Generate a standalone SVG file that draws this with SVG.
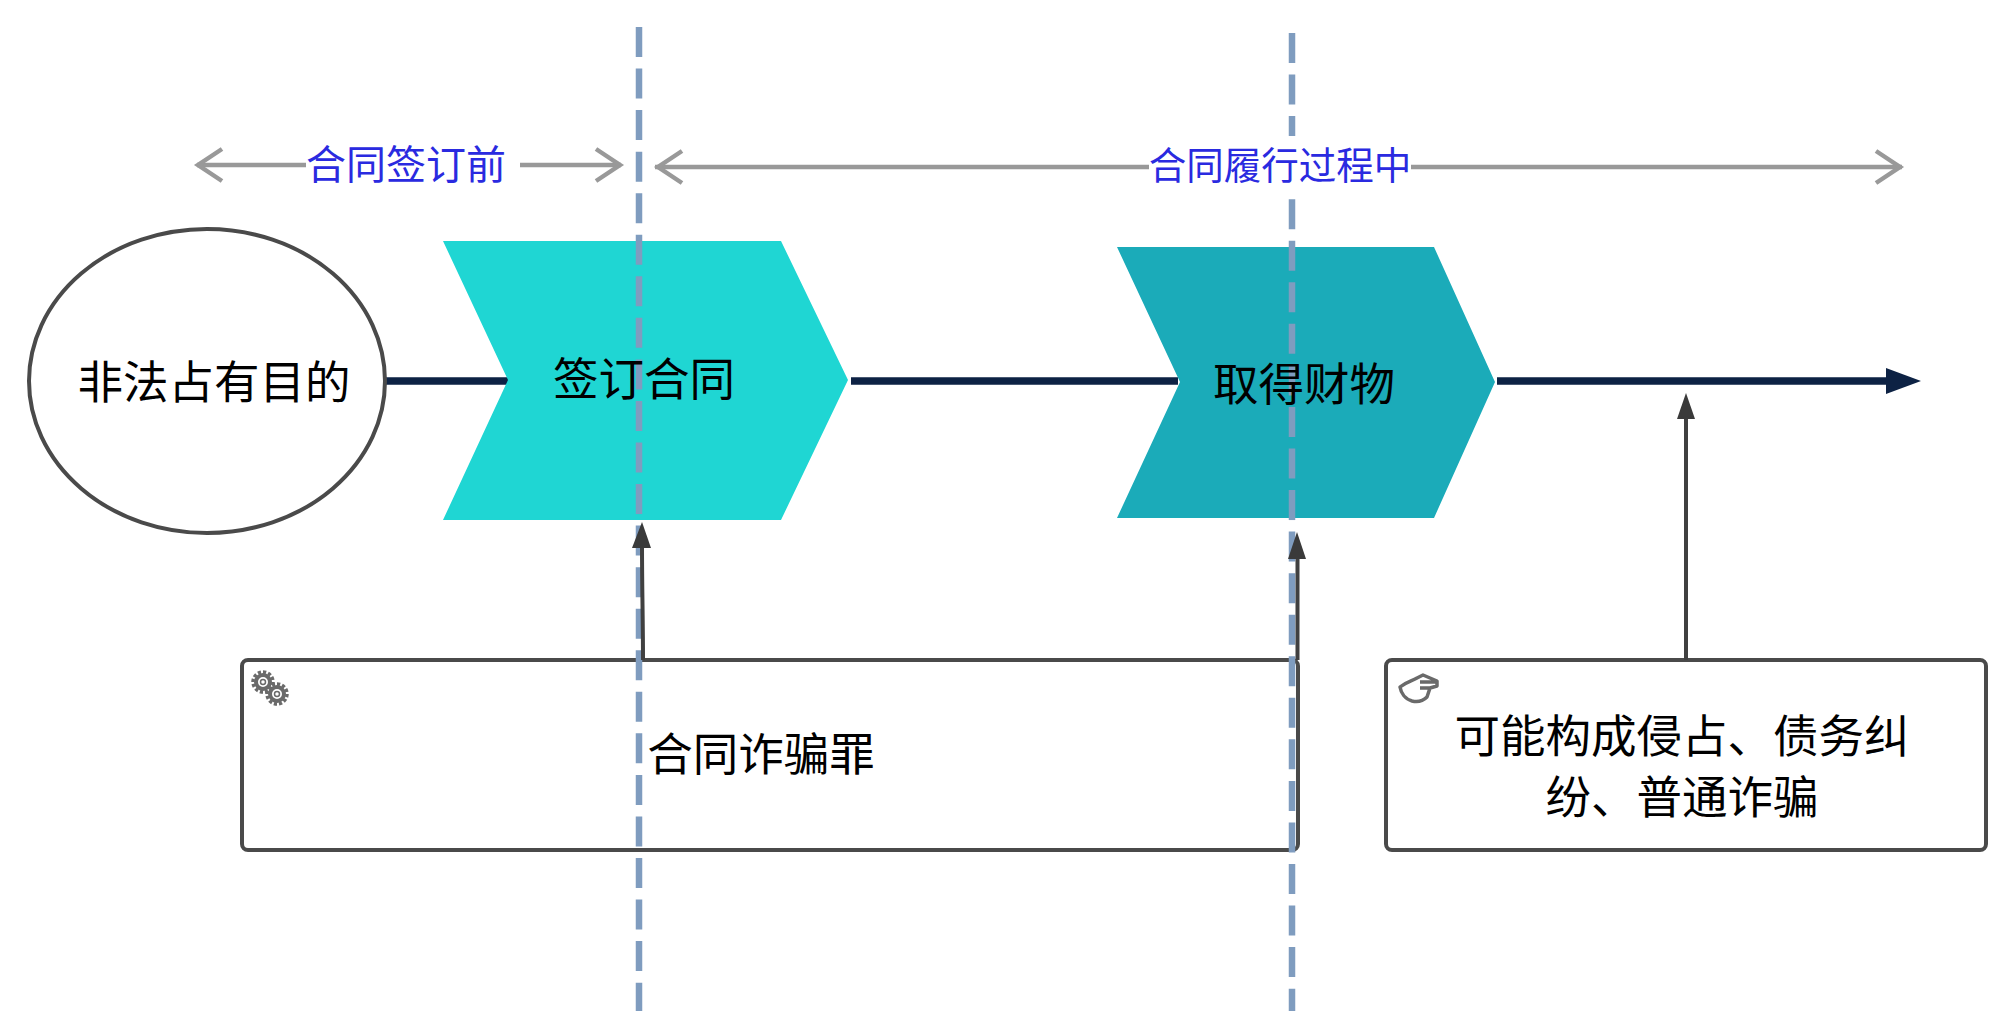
<svg xmlns="http://www.w3.org/2000/svg" width="2000" height="1011" viewBox="0 0 2000 1011">
<style>
text{font-family:"Noto Sans CJK SC","Noto Sans CJK JP",sans-serif;font-size:45.5px;fill:#000;text-anchor:middle;font-weight:400}
.blue{fill:#2a2ae0}
.box{fill:#fff;stroke:#4a4a4a;stroke-width:4}
.main{stroke:#0d2244;stroke-width:7.5;fill:none}
.grey{stroke:#999;stroke-width:4.5;fill:none}
.up{stroke:#404040;stroke-width:4;fill:none}
.dash{stroke:#7f9cbf;stroke-width:6.5;stroke-dasharray:30 11.55;fill:none}
.icon{fill:none;stroke:#6a6a6a}
</style>
<defs>
<g id="gear"><circle r="7" class="icon" stroke-width="4"/><circle r="10" class="icon" stroke-width="3.5" stroke-dasharray="3.2 2"/><circle r="2.5" class="icon" stroke-width="1.5"/></g>
</defs>
<g id="connectors">
<path class="main" d="M385 381H508M851 381H1178M1497 381H1890"/>
<path d="M1886 368L1921 381L1886 394Z" fill="#0d2244"/>
<path class="grey" d="M197 165H306M520 165H621M655 167H1902"/>
<path class="grey" d="M222 149L198 165L222 181M596 149L620 165L596 181M682 151L658 167L682 183M1876 151L1900 167L1876 183"/>
</g>
<g id="node-start"><ellipse cx="207" cy="381" rx="178" ry="152" fill="#fff" stroke="#4a4a4a" stroke-width="4"/><text x="214" y="399">非法占有目的</text></g>
<g id="node-sign"><path d="M443 241H781L848 380L781 520H443L508 380Z" fill="#1fd6d3"/><path class="dash" d="M639 234.75V525.6"/><text x="644" y="396">签订合同</text></g>
<g id="node-obtain"><path d="M1117 247H1434L1495 382L1434 518H1117L1180 382Z" fill="#1babb9"/><path class="dash" d="M1292 240.75V531.6"/><text x="1304" y="401">取得财物</text></g>
<g id="node-fraud"><rect class="box" x="242" y="660" width="1056" height="190" rx="6"/>
<use href="#gear" x="263" y="682"/><use href="#gear" x="277" y="694"/>
<text x="761" y="771">合同诈骗罪</text></g>
<g id="node-other"><rect class="box" x="1386" y="660" width="600" height="190" rx="6"/>
<path class="icon" stroke-width="3.5" stroke-linejoin="round" d="M1400 687C1406 682 1412 681 1417 678L1423 675L1437 681L1437 686L1430 688L1427 697C1422 702 1416 702 1412 701C1405 699 1401 693 1400 687ZM1420 682H1436M1420 688H1431"/>
<text x="1682" y="753">可能构成侵占、债务纠</text><text x="1682" y="814">纷、普通诈骗</text></g>
<g id="connectors-up">
<path class="dash" d="M639 27V234.75M639 525.6V1011M1292 33V240.75M1292 531.6V1011"/>
<path class="up" d="M643 660C643 620 642 590 642 545M1297.5 660V555M1686 660V415"/>
<path d="M642 522L651 548H632Z" fill="#3a3a3a"/>
<path d="M1297 532L1306 559H1288Z" fill="#3a3a3a"/>
<path d="M1686 393L1695 419H1677Z" fill="#3a3a3a"/>
</g>
<g id="labels">
<rect x="1149" y="136" width="262" height="60" fill="#fff"/>
<text class="blue" x="406" y="179" style="font-size:40px">合同签订前</text><text class="blue" x="1280" y="179" style="font-size:37.5px">合同履行过程中</text></g>
</svg>
